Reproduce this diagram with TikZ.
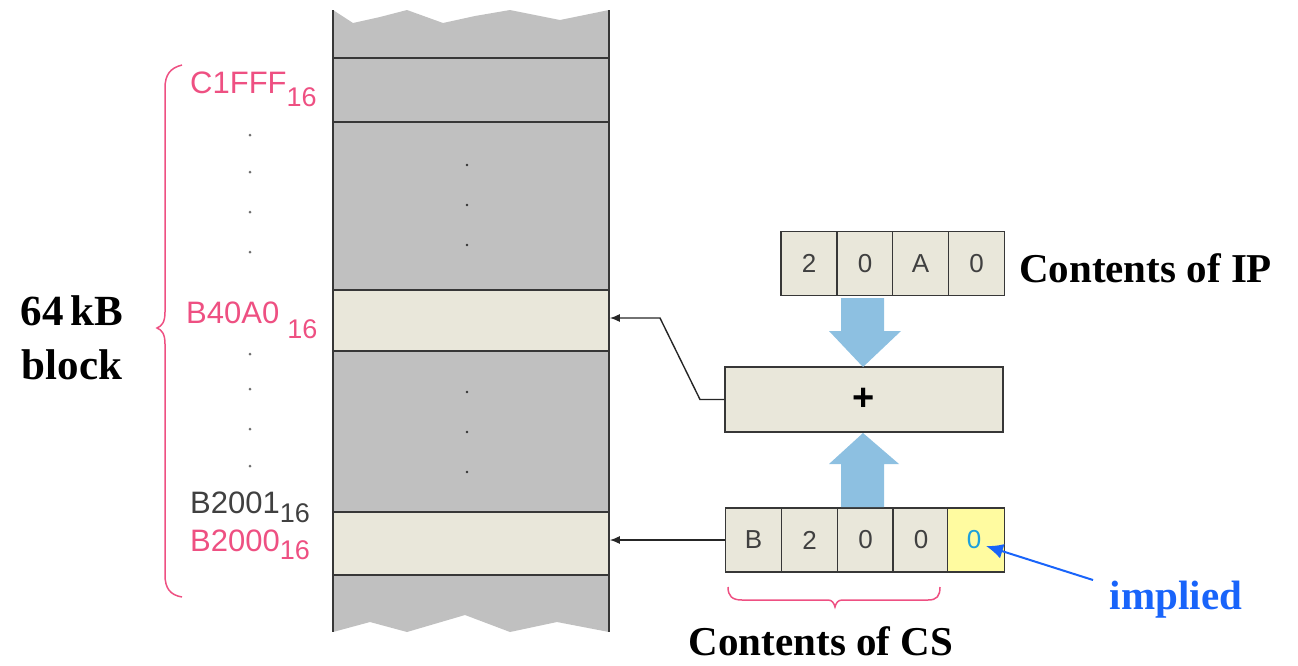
\documentclass[tikz,border=0pt]{standalone}
\usepackage{fontspec}
\setmainfont{Liberation Serif}
\setsansfont{Liberation Sans}
\usetikzlibrary{arrows.meta}

\definecolor{labelpink}{RGB}{238,80,130}
\definecolor{cellfill}{RGB}{233,231,218}
\definecolor{memgray}{RGB}{192,192,192}
\definecolor{edgegray}{RGB}{55,55,55}
\definecolor{flowblue}{RGB}{141,192,225}
\definecolor{noteblue}{RGB}{25,100,250}
\definecolor{implycell}{RGB}{255,251,160}
\definecolor{digitcyan}{RGB}{30,160,220}
\definecolor{dotgray}{RGB}{110,110,110}

\newcommand{\subsize}{\fontsize{27}{27}\selectfont}

\tikzset{
  cell/.style={draw=edgegray, line width=1.6pt, fill=cellfill,
    minimum width=56pt, minimum height=64pt, inner sep=0pt,
    font=\sffamily\fontsize{26}{26}\selectfont, text=black!75},
  memrow/.style={draw=edgegray, line width=1.6pt, fill=cellfill,
    minimum width=276pt, inner sep=0pt},
  addr/.style={anchor=base west, inner sep=0pt,
    font=\sffamily\fontsize{31}{31}\selectfont},
  caption/.style={inner sep=0pt, font=\fontsize{41}{53}\selectfont\bfseries},
  conn/.style={draw=black!85, line width=1.4pt,
    -{Latex[length=10pt,width=8pt]}},
  bluearrow/.style={fill=flowblue},
  coldot/.style={fill=black!80},
  sidedot/.style={fill=dotgray}
}

\begin{document}
\begin{tikzpicture}[x=1pt,y=-1pt]
\useasboundingbox (0,0) rectangle (1298,665);

% memory column with torn top and bottom edges
\fill[memgray] (333,10) -- (353,23) -- (380,17) -- (407,10) -- (443,23)
  -- (475,16) -- (510,10) -- (560,20) -- (609,10) -- (609,632)
  -- (557,622) -- (510,632) -- (465,615) -- (407,632) -- (370,622)
  -- (333,632) -- cycle;
\draw[edgegray, line width=1.8pt] (333,10) -- (333,632);
\draw[edgegray, line width=1.8pt] (609,10) -- (609,632);
\draw[edgegray, line width=1.8pt] (333,58) -- (609,58);
\draw[edgegray, line width=1.8pt] (333,122) -- (609,122);

% addressed memory locations
\node[memrow, minimum height=61pt] (rowA) at (471,320.5) {};
\node[memrow, minimum height=63pt] (rowB) at (471,543.5) {};

% ellipsis dots inside the column
\foreach \yy in {165,205,245,392,432,472}
  \fill[coldot] (467,\yy) circle (1.4);
% ellipsis dots beside the column
\foreach \yy in {135,172,212,252,354,389,429,466}
  \fill[sidedot] (250,\yy) circle (1.5);

% address labels
\node[addr, text=labelpink] (aC1FFF) at (190,93)
  {C1FFF\raisebox{-13pt}{\subsize 16}};
\node[addr, text=labelpink] (aB40A0) at (186,323)
  {B40A0\hspace{8pt}\raisebox{-15pt}{\subsize 16}};
\node[addr, text=black!75] (aB2001) at (190,513)
  {B2001\raisebox{-9pt}{\subsize 16}};
\node[addr, text=labelpink] (aB2000) at (190,551)
  {B2000\raisebox{-8pt}{\subsize 16}};

% brace spanning the 64 kB block
\draw[labelpink, line width=1.5pt]
  (182,65) .. controls (170,68) and (165,75) .. (165,88)
  -- (165,312) .. controls (165,322) and (162,326) .. (157,328)
  .. controls (162,330) and (165,334) .. (165,344)
  -- (165,575) .. controls (165,588) and (170,595) .. (182,597);

\node[caption, align=center, font=\fontsize{43}{54}\selectfont\bfseries]
  (blocklabel) at (72,338) {64\,kB\\block};

% IP register
\node[cell] (ip1) at (809,263.5) {2};
\node[cell] (ip2) at (865,263.5) {0};
\node[cell] (ip3) at (920.5,263.5) {A};
\node[cell] (ip4) at (976.5,263.5) {0};
\node[caption, anchor=west] (iplabel) at (1019,268) {Contents of IP};

% adder
\node[cell, minimum width=278pt, minimum height=65pt,
  font=\sffamily\bfseries\fontsize{38}{38}\selectfont, text=black]
  (adder) at (864,399.5) {+};

% CS register with the implied low digit
\node[cell] (cs1) at (753.5,540) {B};
\node[cell] (cs2) at (809.5,540) {2};
\node[cell] (cs3) at (865.5,540) {0};
\node[cell] (cs4) at (921,540) {0};
\node[cell, fill=implycell, text=digitcyan, minimum width=57pt] (cs5) at (976,540)
  {\hspace{-4pt}0};

% wide blue arrows into the adder
\fill[bluearrow] (841,298) -- (884,298) -- (884,331) -- (901,331)
  -- (863,367) -- (829,331) -- (841,331) -- cycle;
\fill[bluearrow] (841,507) -- (884,507) -- (884,464) -- (899,464)
  -- (863,433) -- (829,464) -- (841,464) -- cycle;

% address connectors
\coordinate (bendLow) at (700,399.5);
\coordinate (bendHigh) at (660,318);
\draw[conn] (adder.west) -- (bendLow) -- (bendHigh) -- (rowA.east |- bendHigh);
\draw[conn] (cs1.west) -- (cs1.west -| rowB.east);

% brace under the CS digits
\draw[labelpink, line width=1.5pt]
  (728,587) .. controls (728,596) and (732,600) .. (742,600)
  -- (828,600) .. controls (832,600) and (834,603) .. (835,607)
  .. controls (836,603) and (838,600) .. (842,600)
  -- (928,600) .. controls (937,600) and (940,596) .. (940,587);
\node[caption] (cslabel) at (821,641) {Contents of CS};

% note on the implied digit
\node[caption, text=noteblue] (implied) at (1176,600) {implied};
\coordinate (noteTail) at (1093,580);
\coordinate (noteHead) at (986,546);
\draw[noteblue, line width=2pt, -{Latex[length=17pt,width=15pt]}]
  (noteTail) -- (noteHead);
\end{tikzpicture}
\end{document}
